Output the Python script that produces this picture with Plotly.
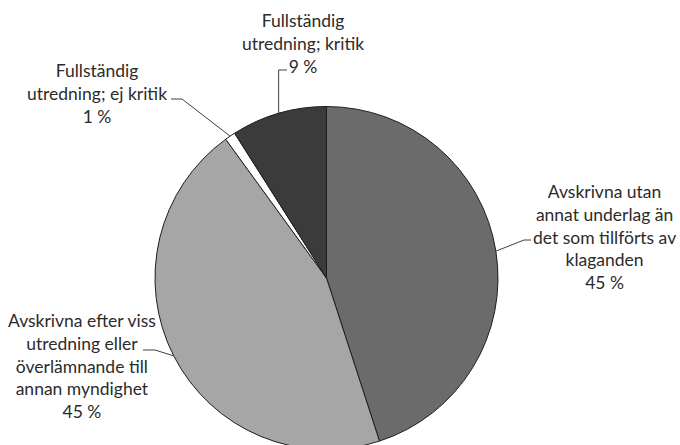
import numpy as np
import plotly.graph_objects as go

# Slice data (clockwise from 12 o'clock)
labels = [
    "Avskrivna utan<br>annat underlag än<br>det som tillförts av<br>klaganden",
    "Avskrivna efter viss<br>utredning eller<br>överlämnande till<br>annan myndighet",
    "Fullständig<br>utredning; ej kritik",
    "Fullständig<br>utredning; kritik",
]
values = [45, 45, 1, 9]
colors = ["#6b6b6b", "#a6a6a6", "#ffffff", "#3b3b3b"]

W, H = 680, 450
# pie geometry in pixels
cx, cy, r = 326.5, 278.0, 171.5

# label placement: text centre (px) and leader tick (start x, end x, y)
label_pos = [(604, 237), (82, 366), (97, 93), (303, 43)]
ticks = [(531, 524, 240), (143, 155, 350), (171, 182, 99), (287, None, 70)]

FONT = "Lato"
TXT = "#2b2b2b"
LINE = "#404040"


def px(x):
    return x / W


def py(y):
    return 1 - y / H


fig = go.Figure(
    go.Pie(
        values=values,
        labels=[l.replace("<br>", " ") for l in labels],
        sort=False,
        direction="clockwise",
        rotation=0,
        textinfo="none",
        hoverinfo="label+percent",
        marker=dict(colors=colors, line=dict(color="#1e1e1e", width=1)),
        domain=dict(x=[(cx - r) / W, (cx + r) / W], y=[py(cy + r), py(cy - r)]),
        showlegend=False,
    )
)

total = float(sum(values))
cum = np.cumsum([0] + values)
annotations = []
shapes = []
for i, v in enumerate(values):
    mid = (cum[i] + v / 2) / total * 2 * np.pi
    ex = cx + r * np.sin(mid)
    ey = cy - r * np.cos(mid)
    pct = f"{round(v / total * 100)} %"
    tx, ty = label_pos[i]
    annotations.append(
        dict(
            x=px(tx), y=py(ty), xref="paper", yref="paper",
            text=labels[i] + "<br>" + pct,
            showarrow=False, align="center",
            xanchor="center", yanchor="middle",
            font=dict(family=FONT, size=17.5, color=TXT),
        )
    )
    x0, x1, yt = ticks[i]
    if x1 is None:
        x1 = ex
    shapes.append(dict(type="line", xref="paper", yref="paper",
                       x0=px(x0), y0=py(yt), x1=px(x1), y1=py(yt),
                       line=dict(color=LINE, width=1)))
    shapes.append(dict(type="line", xref="paper", yref="paper",
                       x0=px(x1), y0=py(yt), x1=px(ex), y1=py(ey),
                       line=dict(color=LINE, width=1)))

fig.update_layout(
    width=W, height=H,
    margin=dict(l=0, r=0, t=0, b=0),
    paper_bgcolor="white", plot_bgcolor="white",
    annotations=annotations, shapes=shapes,
)

fig.write_html(
    "out.html",
    post_script="document.documentElement.style.overflow='hidden';document.body.style.overflow='hidden';document.body.style.margin='0';",
)
